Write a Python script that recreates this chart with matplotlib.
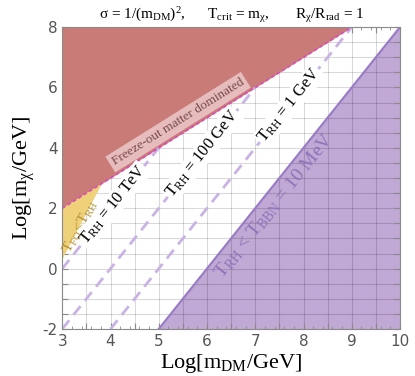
import numpy as np
import matplotlib
matplotlib.use("Agg")
import matplotlib.pyplot as plt
from matplotlib.ticker import MultipleLocator

plt.rcParams["font.family"] = ["Liberation Serif", "DejaVu Serif"]
plt.rcParams["mathtext.fontset"] = "custom"
plt.rcParams["mathtext.rm"] = "Liberation Serif"
plt.rcParams["mathtext.it"] = "Liberation Serif:italic"

# -----------------------
# data (log10 GeV)
# -----------------------
x_range = [3, 10]
y_range = [-2, 8]

# freeze-out matter dominated boundary: log m_chi = log m_DM - 1
fo_x = [3, 9]
fo_y = [2, 8]

# T_FO < T_RH wedge
tfo_x = [3, 3.83, 3]
tfo_y = [0.3, 2.83, 2]

# T_RH contours (slope 2): label, intercept
trh_labels = ["10 TeV", "100 GeV", "1 GeV"]
trh_offsets = [-6, -8, -10]
trh_label_x = [4.05, 5.9, 7.7]

# BBN bound
bbn_offset = -12

red = "#c97b78"
yellow = "#efd179"
purple_fill = "#c0a9d5"
purple_line = "#9a7cc6"
dash_col = "#c8b3e4"


fig = plt.figure(figsize=(4.15, 3.76), dpi=100)
ax = fig.add_axes([0.150, 0.125, 0.814, 0.803])
ax.set_xlim(x_range)
ax.set_ylim(y_range)

ax.set_axisbelow(True)
ax.set_xticks(np.arange(3, 10.01, 0.5))
ax.set_yticks(np.arange(-2, 8.01, 0.5))
ax.xaxis.set_minor_locator(MultipleLocator(0.2))
ax.set_xticklabels([str(int(v)) if v == int(v) else "" for v in np.arange(3, 10.01, 0.5)])
ax.set_yticklabels([str(int(v)) if v % 2 == 0 else "" for v in np.arange(-2, 8.01, 0.5)])
ax.grid(True, which="major", color="black", alpha=0.15, lw=0.8)

# BBN excluded region
xb = np.array([5, 10])
ax.fill_between(xb, 2 * xb + bbn_offset, y_range[0], color=purple_fill, zorder=0.3, lw=0)
ax.plot(xb, 2 * xb + bbn_offset, color=purple_line, lw=1.6, zorder=2)

# freeze-out matter dominated region
xf = np.array(fo_x)
ax.fill_between(xf, fo_y, y_range[1], color=red, zorder=1, lw=0)
ax.plot(xf, fo_y, color="#d94fb8", lw=1.3, ls=(0, (2, 1.5)), zorder=2)

# T_FO < T_RH wedge
ax.fill(tfo_x, tfo_y, color=yellow, zorder=1, lw=0)

# T_RH dashed contours, from the bottom/left edge up to the freeze-out line
for off in trh_offsets:
    x0 = max(3, (y_range[0] - off) / 2)
    x1 = -1 - off
    xs = np.array([x0, x1])
    ax.plot(xs, 2 * xs + off, color=dash_col, lw=2, ls=(0, (4, 2.5)), zorder=1.5)


def line_angle(slope):
    p0 = ax.transData.transform((5, 0))
    p1 = ax.transData.transform((6, slope))
    return np.degrees(np.arctan2(p1[1] - p0[1], p1[0] - p0[0]))


ang2 = line_angle(2)
for lab, off, lx in zip(trh_labels, trh_offsets, trh_label_x):
    ax.text(lx, 2 * lx + off, r"$\mathrm{T_{RH}}$ = " + lab, rotation=ang2,
            rotation_mode="anchor", ha="center", va="center", fontsize=12,
            color="black", zorder=3,
            bbox=dict(boxstyle="square,pad=0.1", fc="white", ec="none"))

ax.text(7.4, 2.1, r"$\mathrm{T_{RH}}$ < $\mathrm{T_{BBN}}$ = 10 MeV", rotation=ang2,
        rotation_mode="anchor", ha="center", va="center", fontsize=14,
        color="#8f73b8", zorder=3)

ax.text(5.4, 4.85, "Freeze-out matter dominated", rotation=line_angle(1),
        rotation_mode="anchor", ha="center", va="center", fontsize=9.5,
        color="#7a4a4a", zorder=3,
        bbox=dict(boxstyle="square,pad=0.25", fc="#ecc9c9", ec="none", alpha=0.85))

ax.text(3.37, 1.4, r"$\mathrm{T_{FO}}$<$\mathrm{T_{RH}}$", rotation=line_angle(3),
        rotation_mode="anchor", ha="center", va="center", fontsize=11,
        color="#b59238", zorder=3)

# axes styling
for sp in ax.spines.values():
    sp.set_color("#8a8a8a")
ax.tick_params(which="both", direction="in", top=True, right=True, color="#8a8a8a",
               labelcolor="#555555")
ax.tick_params(which="major", length=4)
ax.tick_params(which="minor", length=2.5)
for t in ax.get_xticklabels() + ax.get_yticklabels():
    t.set_fontfamily("DejaVu Sans")
    t.set_fontsize(11)

ax.set_xlabel(r"Log[$\mathrm{m_{DM}}$/GeV]", fontsize=16, labelpad=2)
ax.set_ylabel(r"Log[$\mathrm{m_{\chi}}$/GeV]", fontsize=16, labelpad=4)
ax.set_title(r"σ = 1/($\mathrm{m_{DM}}$)$^2$,      $\mathrm{T_{crit}}$ = $\mathrm{m_{\chi}}$,"
             r"       $\mathrm{R_{\chi}}$/$\mathrm{R_{rad}}$ = 1", fontsize=11, pad=6)

fig.savefig("out.png", dpi=100)
